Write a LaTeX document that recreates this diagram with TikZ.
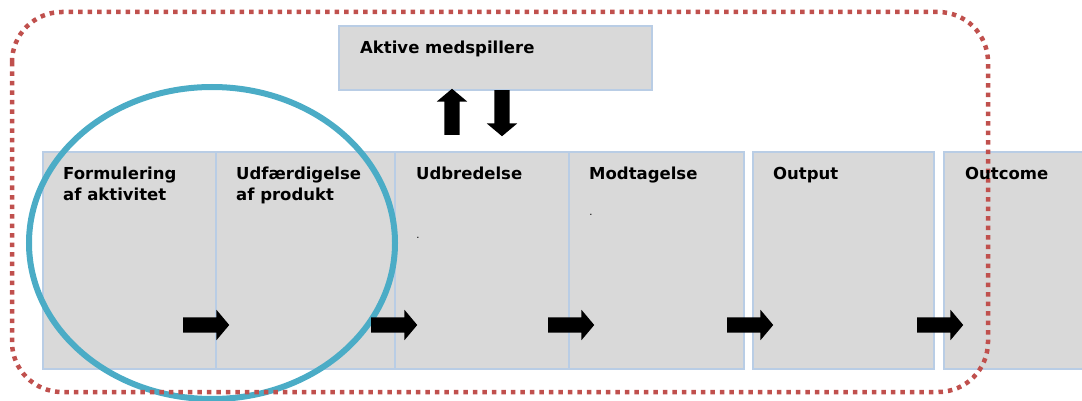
\documentclass[tikz,border=0pt]{standalone}
\usepackage{fontspec}
\setmainfont{DejaVu Sans}
\usetikzlibrary{shapes.arrows}

\definecolor{boxfill}{HTML}{D9D9D9}
\definecolor{boxline}{HTML}{B9CDE5}
\definecolor{ringblue}{HTML}{4BACC6}
\definecolor{dotred}{HTML}{C0504D}

\tikzset{
  phase/.style={draw=boxline, line width=2pt, fill=boxfill, anchor=north west, inner sep=0pt},
  phasetext/.style={anchor=north west, inner sep=0pt, align=left, font=\bfseries\fontsize{16.5}{21}\selectfont},
  blockarrow/.style={single arrow, fill=black, inner xsep=0pt, inner ysep=7.5pt, minimum height=46pt,
    single arrow head extend=7.5pt, single arrow tip angle=100},
  uparrow/.style={blockarrow, inner xsep=7.5pt, inner ysep=0pt, minimum width=0pt},
}

\begin{document}
\begin{tikzpicture}[x=1pt,y=-1pt]
  \useasboundingbox (0,0) rectangle (1082,401);

      % the phases
      \node[phase, minimum width=173pt, minimum height=217pt] (form) at (42,151) {};
      \node[phase, minimum width=179pt, minimum height=217pt] (udf) at (215,151) {};
      \node[phase, minimum width=174pt, minimum height=217pt] (udb) at (394,151) {};
      \node[phase, minimum width=175pt, minimum height=217pt] (mod) at (568,151) {};
      \node[phase, minimum width=181pt, minimum height=217pt] (out) at (752,151) {};
      \node[phase, minimum width=160pt, minimum height=217pt] (outc) at (943,151) {};
      \node[phase, minimum width=313pt, minimum height=64pt] (akt) at (338,25) {};

      \draw[ringblue, line width=6pt] (212,243) ellipse (183 and 156);
      \draw[dotred, line width=4.5pt, dash pattern=on 4.5pt off 5pt, rounded corners=50pt]
        (12,12) rectangle (988,392);

      \node[blockarrow] (a1) at (203,325) {};
      \node[blockarrow] (a2) at (391,325) {};
      \node[blockarrow] (a3) at (568,325) {};
      \node[blockarrow] (a4) at (747,325) {};
      \node[blockarrow] (a5) at (937,325) {};
      \node[uparrow, shape border rotate=90] (up) at (452,115) {};
      \node[uparrow, shape border rotate=270] (down) at (502,110) {};

      \node[phasetext] (tform) at ([xshift=21pt,yshift=-16pt]form.north west) {Formulering\\af aktivitet};
      \node[phasetext] (tudf) at ([xshift=21pt,yshift=-16pt]udf.north west) {Udfærdigelse\\af produkt};
      \node[phasetext] (tudb) at ([xshift=22pt,yshift=-16pt]udb.north west) {Udbredelse};
      \node[phasetext] (tmod) at ([xshift=21pt,yshift=-16pt]mod.north west) {Modtagelse};
      \node[phasetext] (tout) at ([xshift=21pt,yshift=-16pt]out.north west) {Output};
      \node[phasetext] (toutc) at ([xshift=22pt,yshift=-16pt]outc.north west) {Outcome};
      \node[phasetext] (takt) at ([xshift=22pt,yshift=-16pt]akt.north west) {Aktive medspillere};

      \node[font=\fontsize{10}{10}\selectfont, inner sep=0pt] (dot1) at (418,238) {.};
      \node[font=\fontsize{10}{10}\selectfont, inner sep=0pt] (dot2) at (591,215) {.};

    \end{tikzpicture}
\end{document}
